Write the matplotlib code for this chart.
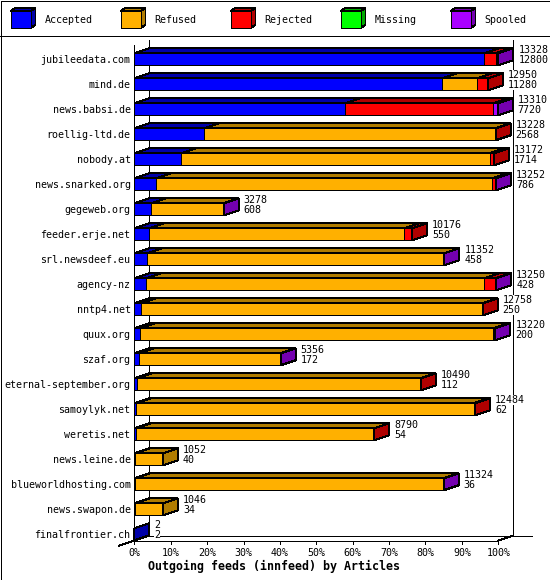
import matplotlib
matplotlib.use("Agg")
import matplotlib.pyplot as plt
import matplotlib.transforms as mtransforms
from matplotlib.patches import Polygon, Rectangle

hosts = ["jubileedata.com", "mind.de", "news.babsi.de", "roellig-ltd.de",
         "nobody.at", "news.snarked.org", "gegeweb.org", "feeder.erje.net",
         "srl.newsdeef.eu", "agency-nz", "nntp4.net", "quux.org", "szaf.org",
         "eternal-september.org", "samoylyk.net", "weretis.net",
         "news.leine.de", "blueworldhosting.com", "news.swapon.de",
         "finalfrontier.ch"]
accepted = [12800, 11280, 7720, 2568, 1714, 786, 608, 550, 458, 428,
            250, 200, 172, 112, 62, 54, 40, 36, 34, 2]
refused = [0, 1283, 0, 10650, 11293, 12300, 2640, 9322, 10880, 12367,
           12478, 12950, 5164, 10360, 12362, 8716, 1012, 11270, 1012, 0]
rejected = [430, 387, 5430, 10, 165, 146, 0, 304, 0, 430,
            30, 40, 0, 18, 60, 20, 0, 0, 0, 0]
missing = [0] * 20
spooled = [98, 0, 160, 0, 0, 20, 30, 0, 14, 25,
           0, 30, 20, 0, 0, 0, 0, 18, 0, 0]

names = ["Accepted", "Refused", "Rejected", "Missing", "Spooled"]
series = [accepted, refused, rejected, missing, spooled]
front_col = ["#0000ff", "#ffb000", "#ff0000", "#00ff00", "#aa00ff"]
dark_col = ["#0000a8", "#b07c00", "#b00000", "#00a800", "#7400b0"]

totals = [sum(s[i] for s in series) for i in range(len(hosts))]

FONT = "DejaVu Sans Mono"
LW = 0.72

fig = plt.figure(figsize=(5.5, 5.8), dpi=100)

# background layer in pixel units: frame, legend, title
bg = fig.add_axes([0, 0, 1, 1])
bg.set_xlim(0, 550)
bg.set_ylim(580, 0)
bg.axis("off")
bg.add_patch(Rectangle((0.5, 0.5), 549, 579, fill=False, lw=LW,
                       ec="black", antialiased=False))
bg.plot([0, 550], [35.5, 35.5], color="black", lw=LW, antialiased=False)

for k, name in enumerate(names):
    x0 = 10.5 + 110 * k
    bg.add_patch(Polygon([(x0, 11), (x0 + 20, 11), (x0 + 25, 8), (x0 + 5, 8)],
                         fc=dark_col[k], ec="black", lw=LW, antialiased=False))
    bg.add_patch(Polygon([(x0 + 20, 11), (x0 + 20, 28), (x0 + 25, 25), (x0 + 25, 8)],
                         fc=dark_col[k], ec="black", lw=LW, antialiased=False))
    bg.add_patch(Rectangle((x0, 11), 20, 17, fc=front_col[k], ec="black",
                           lw=LW, antialiased=False))
    bg.text(x0 + 34, 20, name, fontsize=7.2, family=FONT, va="center", ha="left")

bg.text(274.5, 566, "Outgoing feeds (innfeed) by Articles", fontsize=8.4,
        family=FONT, weight="bold", ha="center", va="center")

# main plot area: front plane of the 3d box
L, R, T, B = 134.3, 498.3, 45, 540.5
row_px = 25.0
y0 = 59.3
ax = fig.add_axes([L / 550, 1 - B / 580, (R - L) / 550, (B - T) / 580])
xmax = max(totals)
ax.set_xlim(0, xmax)
ax.set_ylim((B - y0) / row_px, (T - y0) / row_px)
ax.axis("off")

ppx = (R - L) / xmax
DX = 15 / ppx
DY = -5 / row_px
bh = 12 / row_px
ybot = (B - y0) / row_px
ytop_back = (40 - y0) / row_px

kw = dict(color="black", lw=LW, antialiased=False, clip_on=False)
# walls / floor
ax.plot([0, 0], [ybot, (T - y0) / row_px], **kw)
ax.plot([DX, DX], [ybot + DY, ytop_back], **kw)
ax.plot([xmax + DX, xmax + DX], [ybot + DY, ytop_back], **kw)
ax.plot([DX, xmax + DX + 19 / ppx], [ybot + DY, ybot + DY], **kw)
ax.plot([0, xmax], [ybot, ybot], **kw)
ax.plot([-DX, DX], [ybot - DY, ybot + DY], **kw)
ax.plot([xmax, xmax + DX], [ybot, ybot + DY], **kw)

# percent ticks along the front floor
for p in range(11):
    xv = xmax * p / 10
    ax.plot([xv, xv], [ybot, ybot + 3 / row_px], **kw)
    ax.text(xv, ybot + 12 / row_px, f"{p * 10}%", fontsize=7.2, family=FONT,
            ha="center", va="center")

rows = list(range(len(hosts)))
left = [0] * len(hosts)
for k in range(len(series)):
    vals = series[k]
    ax.barh(rows, vals, left=left, height=bh, color=front_col[k],
            edgecolor="black", linewidth=LW, antialiased=False, clip_on=False,
            zorder=2)
    # top faces
    for i in rows:
        if vals[i] > 0:
            a, b = left[i], left[i] + vals[i]
            yt = i - bh / 2
            ax.add_patch(Polygon([(a, yt), (b, yt), (b + DX, yt + DY), (a + DX, yt + DY)],
                                 fc=dark_col[k], ec="black", lw=LW,
                                 antialiased=False, clip_on=False, zorder=2))
    left = [left[i] + vals[i] for i in rows]

up = mtransforms.offset_copy(ax.transData, fig=fig, x=5, y=9.3, units="dots")
dn = mtransforms.offset_copy(ax.transData, fig=fig, x=5, y=-0.8, units="dots")
lab = mtransforms.offset_copy(ax.transData, fig=fig, x=-3.8, y=-0.5, units="dots")
box = dict(facecolor="white", edgecolor="none", pad=0)

for i in rows:
    last = max(k for k in range(len(series)) if series[k][i] > 0)
    t = totals[i]
    yt = i - bh / 2
    # side face in the colour of the last segment
    ax.add_patch(Polygon([(t, yt), (t, yt + bh), (t + DX, yt + bh + DY), (t + DX, yt + DY)],
                         fc=dark_col[last], ec="black", lw=LW,
                         antialiased=False, clip_on=False, zorder=2))
    ax.text(t + DX, i, str(t), transform=up, fontsize=7.2, family=FONT,
            ha="left", va="center", bbox=box, zorder=3)
    ax.text(t + DX, i, str(accepted[i]), transform=dn, fontsize=7.2, family=FONT,
            ha="left", va="center", bbox=box, zorder=3)
    ax.text(0, i, hosts[i], transform=lab, fontsize=7.2, family=FONT,
            ha="right", va="center")

fig.savefig("out.png", dpi=100)
